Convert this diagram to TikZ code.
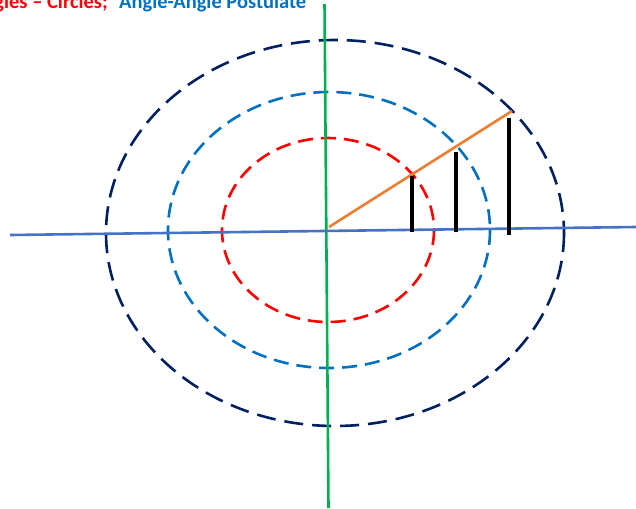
\documentclass[tikz,border=0pt]{standalone}
\usepackage{fontspec}
\setmainfont{Carlito}
\usepackage{tikz}
\usetikzlibrary{calc}
\definecolor{ACred}{RGB}{255, 0, 0}
\definecolor{ACblue}{RGB}{0, 112, 192}
\definecolor{ACnavy}{RGB}{0, 32, 96}
\definecolor{ACaxis}{RGB}{68, 114, 196}
\definecolor{ACgreen}{RGB}{0, 176, 80}
\definecolor{ACorange}{RGB}{237, 125, 49}
\tikzset{every node/.style={font=\bfseries\fontsize{20.5}{24}\selectfont, inner sep=0pt}}
\tikzset{circ/.style={line width=2.6pt, dash pattern=on 15pt off 8pt}, leg/.style={line width=3.8pt, black}, axis/.style={line width=2.6pt, line cap=butt}}

\begin{document}
\begin{tikzpicture}[x=1pt, y=-1pt]
    \useasboundingbox (0,0) rectangle (636,508);
    \clip (0,0) rectangle (636,508);
    % axes
    \coordinate (hl) at (10,235);
    \coordinate (hr) at (636,227);
    \coordinate (vt) at (324.5,4);
    \coordinate (vb) at (328.5,508);
    \coordinate (O) at (329,227);
    \coordinate (P) at (512,111);
    % title
    \node [anchor=base east, text=ACred] (title1) at (108,9) {gles -- Circles;};
    \node [anchor=base west, text=ACblue] (title2) at (119,9) {Angle-Angle Postulate};
    % circles
    \draw [circ, ACred] (328,230) ellipse [x radius=106, y radius=92];
    \draw [circ, ACblue] (329,230) ellipse [x radius=161, y radius=138];
    \draw [circ, ACnavy, dash pattern=on 19pt off 9pt] (335,233) ellipse [x radius=229, y radius=193];
    \draw [axis, ACgreen] (vt) -- (vb);
    \draw [axis, ACaxis] (hl) -- (hr);
    % similar triangles
    \draw [axis, ACorange] (O) -- (P);
    \coordinate (a1) at (412,176); \coordinate (b1) at (412,232);
    \coordinate (a2) at (456,152); \coordinate (b2) at (456,232);
    \coordinate (a3) at (509,118); \coordinate (b3) at (509,235);
    \foreach \i in {1,2,3} {
        \draw [leg] (a\i) -- (b\i);
    }
\end{tikzpicture}
\end{document}
